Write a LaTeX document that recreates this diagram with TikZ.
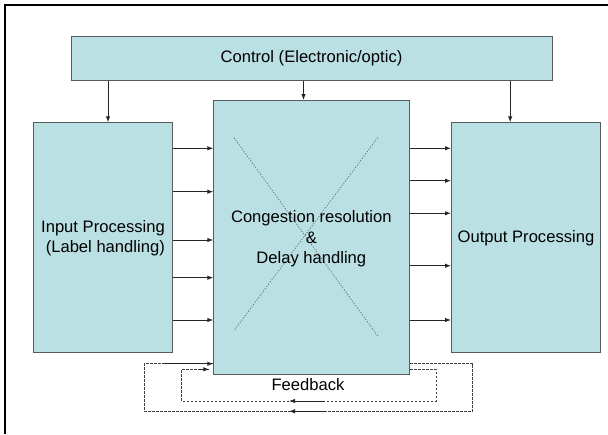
\documentclass[tikz,border=0pt]{standalone}
\usepackage{fontspec}
\setmainfont{Liberation Sans}
\usetikzlibrary{arrows.meta,calc}
\definecolor{boxfill}{HTML}{BBE0E3}
\definecolor{boxline}{HTML}{565C5E}
\definecolor{fbline}{HTML}{404040}
\begin{document}
\begin{tikzpicture}[x=1pt,y=-1pt,
  block/.style={draw=boxline, line width=1pt, fill=boxfill, inner sep=0pt,
    anchor=north west},
  lbl/.style={align=center, inner sep=0pt, font=\fontsize{16.6}{20.5}\selectfont},
  link/.style={-{Latex[length=6pt,width=4.5pt]}, line width=0.9pt, black!85},
  fb/.style={dash pattern=on 2.5pt off 1.5pt, line width=0.8pt, fbline},
  cross/.style={dash pattern=on 1.2pt off 1.6pt, line width=0.7pt, black!60}
]
\useasboundingbox (0,0) rectangle (608,434);

% outer frame (top and left edges)
\draw[line width=2.6pt] (5,434) -- (5,5) -- (608,5);

% blocks
\node[block, minimum width=481pt, minimum height=44pt] (ctrl) at (70.5,35.5) {};
\node[lbl] (ctrltext) at ($(ctrl.center)+(0,0.5)$) {Control (Electronic/optic)};

\node[block, minimum width=138.4pt, minimum height=230pt] (inp) at (33.3,122.3) {};
\node[lbl] (inptext) at ($(inp.center)+(0,0.5)$) {Input Processing\\\ (Label handling)};

\node[block, minimum width=196pt, minimum height=274.3pt] (mid) at (213.3,100) {};

\node[block, minimum width=149pt, minimum height=230pt] (out) at (451,122.3) {};
\node[lbl] (outtext) at ($(out.center)+(0,0.5)$) {Output Processing};

% switching fabric crossings
\draw[cross] ($(mid.north west)+(20.7,37.7)$) -- ($(mid.north west)+(165,236.7)$);
\draw[cross] ($(mid.north west)+(164.4,37.7)$) -- ($(mid.north west)+(20.7,230.7)$);
\node[lbl] (midtext) at ($(mid.center)+(-0.5,1.2)$) {Congestion resolution\\ \&\\ Delay handling};

% control lines
\coordinate (c1) at ($(inp.north)+(5,0)$);
\coordinate (c2) at ($(mid.north)+(-8.3,0)$);
\coordinate (c3) at ($(out.north)+(-15.8,0)$);
\draw[link] (ctrl.south -| c1) -- (c1);
\draw[link] (ctrl.south -| c2) -- (c2);
\draw[link] (ctrl.south -| c3) -- (c3);

% data paths
\foreach \yy in {148.3,191.7,240,277.7,320}
  \draw[link] (inp.east |- 0,\yy) -- (mid.west |- 0,\yy);
\foreach \yy in {148.3,180.7,213.3,265.7,320}
  \draw[link] (mid.east |- 0,\yy) -- (out.west |- 0,\yy);

% feedback loops
\coordinate (fo1) at (472.7,363.7);
\coordinate (fo2) at (472.7,411.3);
\coordinate (fo3) at (144.3,411.3);
\coordinate (fo4) at (144.3,363.7);
\draw[fb] (mid.east |- fo1) -- (fo1) -- (fo2) -- (fo3) -- (fo4) -- (mid.west |- fo4);
\coordinate (fi1) at (436,369.3);
\coordinate (fi2) at (436,401);
\coordinate (fi3) at (181.7,401);
\coordinate (fi4) at (181.7,369.3);
\draw[fb] (mid.east |- fi1) -- (fi1) -- (fi2) -- (fi3) -- (fi4) -- ($(mid.west |- fi4)+(-4,0)$);
\draw[link] (163,363.7) -- (mid.west |- fo4);
\draw[link] (199,369.3) -- ($(mid.west |- fi4)+(-4,0)$);
\draw[link] (325,401) -- (289,401);
\draw[link] (325,411.3) -- (289,411.3);
\node[lbl] (fbtext) at (308,385) {Feedback};
\end{tikzpicture}
\end{document}
